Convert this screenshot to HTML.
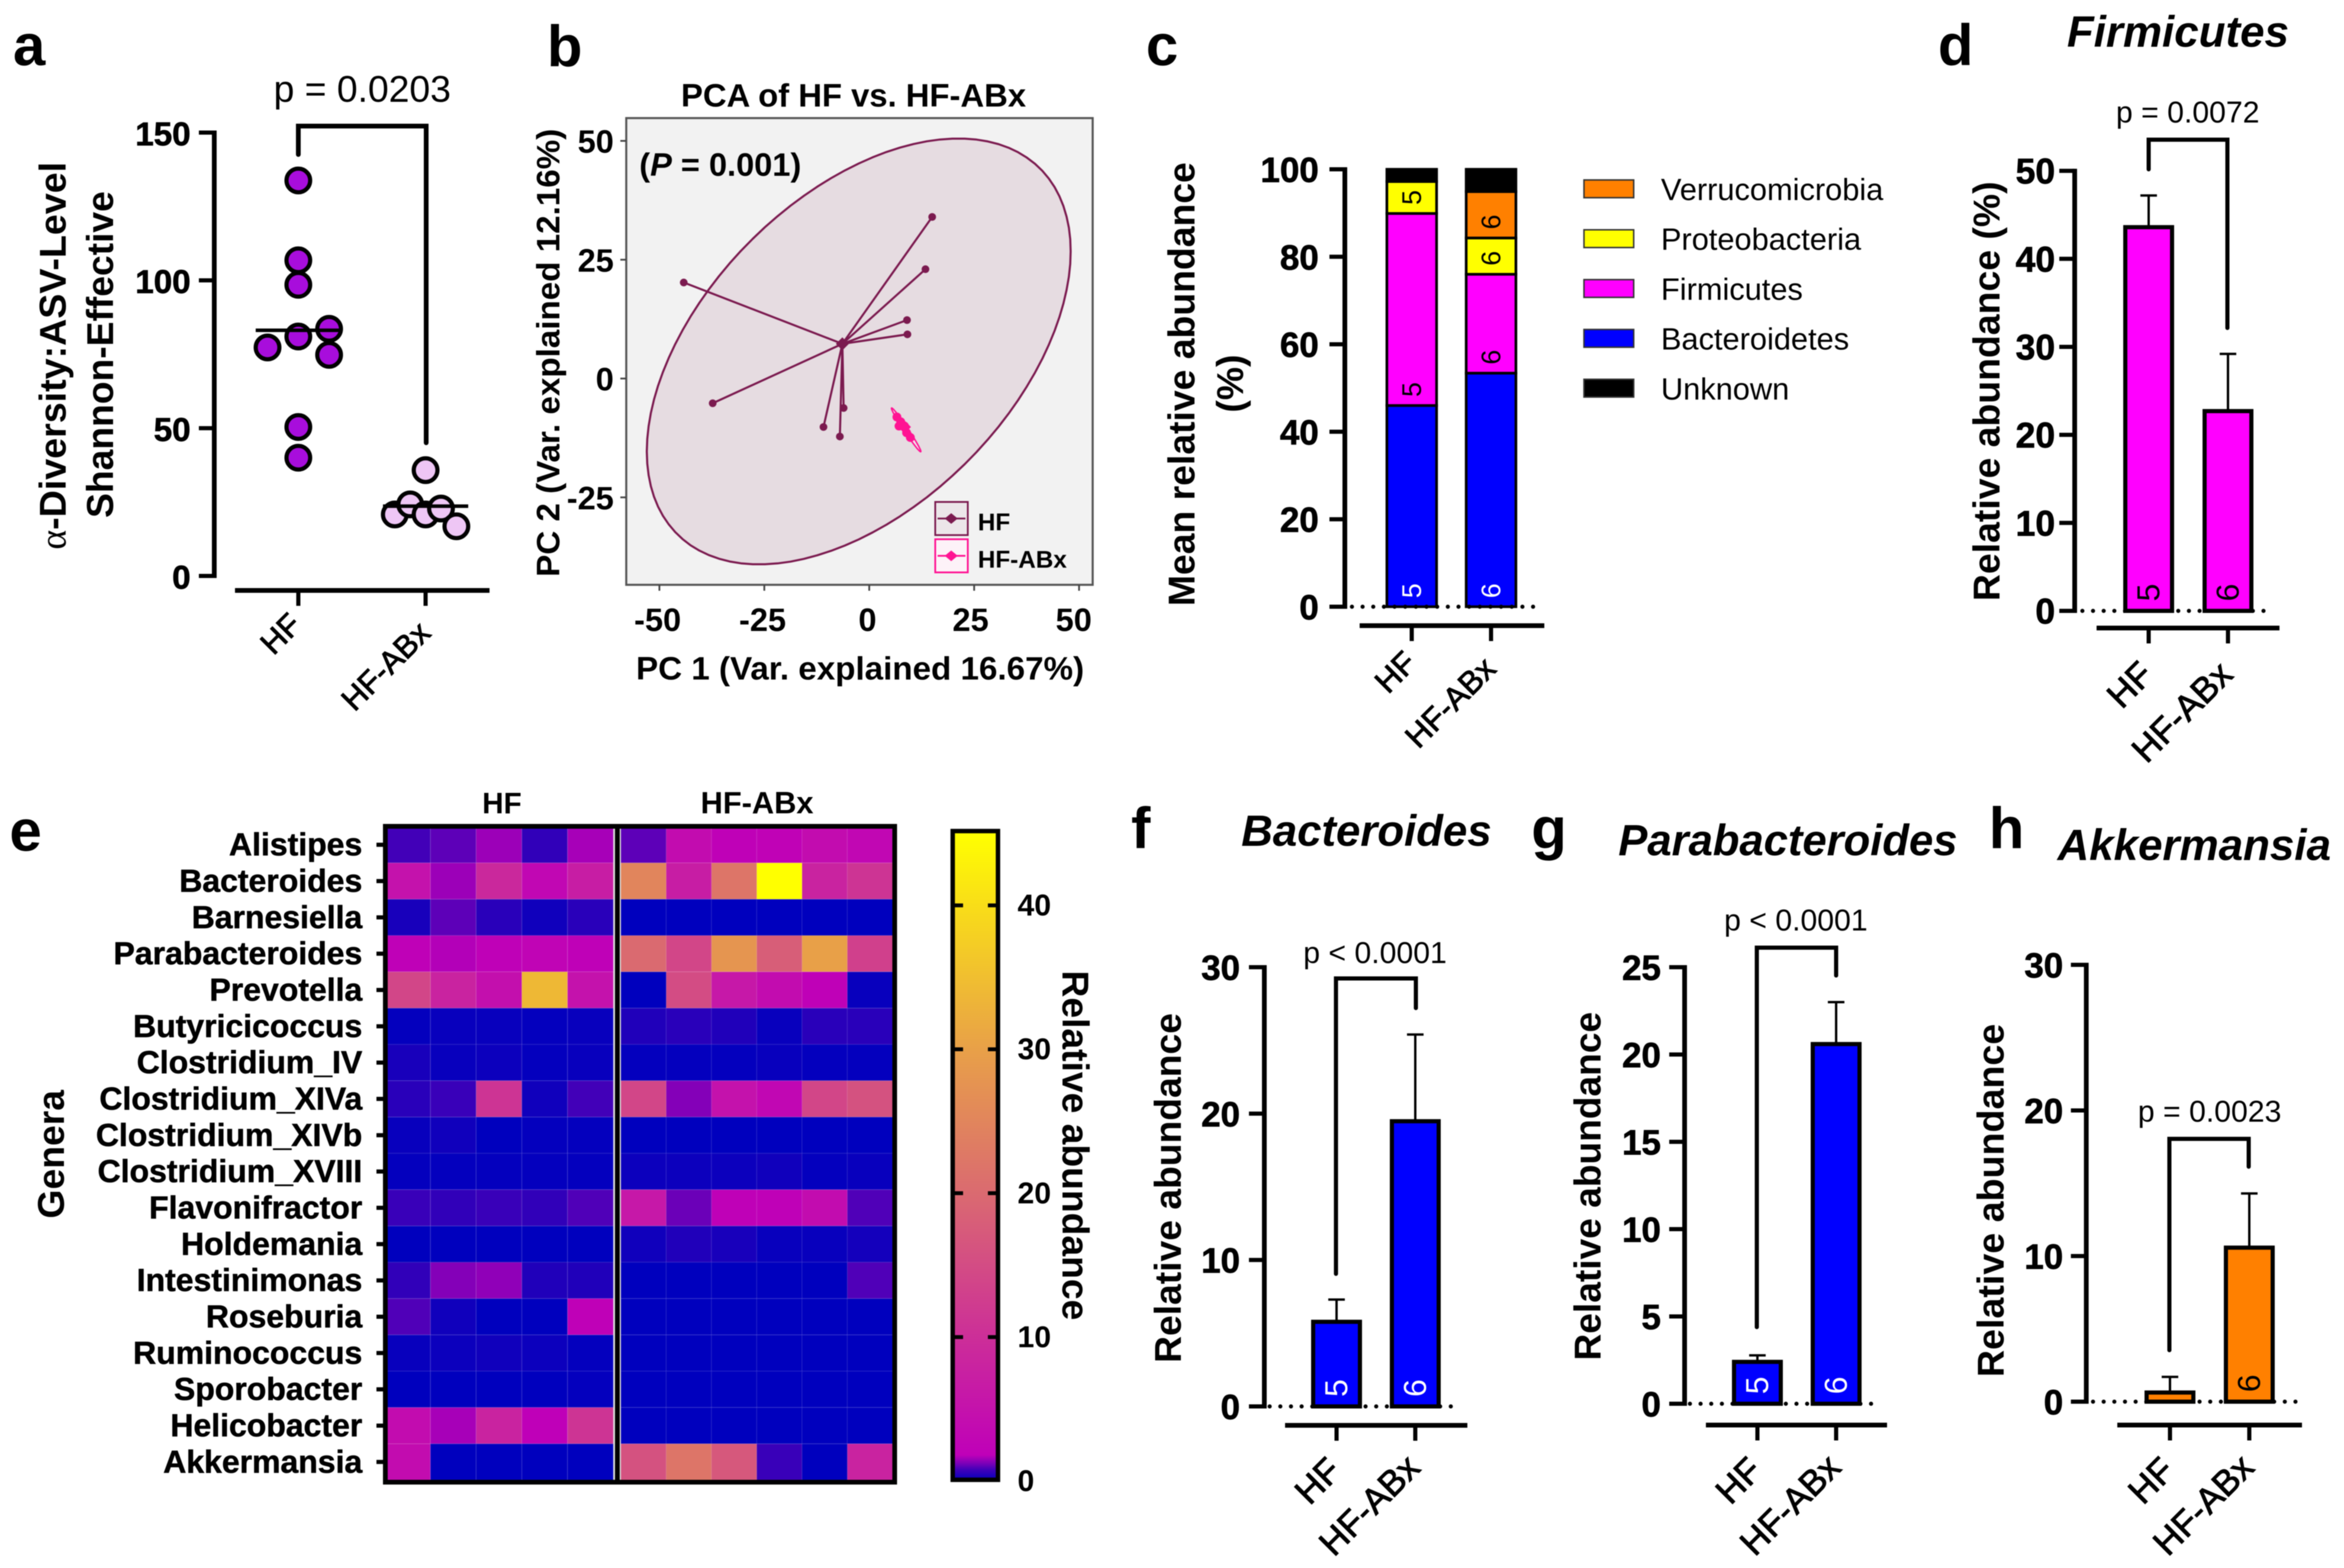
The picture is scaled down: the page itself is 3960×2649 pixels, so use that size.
<!DOCTYPE html>
<html lang="en">
<head>
<meta charset="utf-8">
<title>Gut microbiome composition in HF vs. HF-ABx</title>
<style>
html,body{margin:0;padding:0;background:#fff;}
body{width:3960px;height:2649px;overflow:hidden;}
svg{display:block;filter:blur(0.9px);}
text{font-family:"Liberation Sans",Arial,sans-serif;fill:#000;}
.pl{font-size:98px;font-weight:700;}
.yt{font-size:63px;font-weight:700;text-anchor:middle;}
.ttl{font-size:74px;font-weight:700;font-style:italic;}
.p{font-size:51px;text-anchor:middle;}
.leg{font-size:51px;}
.br{fill:none;stroke:#000;stroke-width:7;stroke-linejoin:miter;stroke-linecap:round;}
</style>
</head>
<body>
<svg id="figure" xmlns="http://www.w3.org/2000/svg" width="3960" height="2649" viewBox="0 0 3960 2649">
<rect x="0" y="0" width="3960" height="2649" fill="#fff"/>

<!-- panel letters -->
<text class="pl" x="22" y="110">a</text>
<text class="pl" x="924" y="112">b</text>
<text class="pl" x="1936" y="110">c</text>
<text class="pl" x="3274" y="110">d</text>
<text class="pl" x="16" y="1437">e</text>
<text class="pl" x="1911" y="1433">f</text>
<text class="pl" x="2587" y="1433">g</text>
<text class="pl" x="3360" y="1433">h</text>

<!-- panel a static -->
<text class="yt" transform="translate(111,601) rotate(-90)" textLength="655" lengthAdjust="spacingAndGlyphs"><tspan font-family="Liberation Serif" font-weight="400">α</tspan>-Diversity:ASV-Level</text>
<text class="yt" transform="translate(191,599) rotate(-90)" textLength="552" lengthAdjust="spacingAndGlyphs">Shannon-Effective</text>
<text class="p" x="612" y="172" font-size="63" style="font-size:63px">p = 0.0203</text>
<path class="br" style="stroke-width:8" d="M504 261V213H720V748"/>

<!-- panel b static -->
<text x="1442" y="180" font-size="55" font-weight="700" text-anchor="middle" textLength="583" lengthAdjust="spacingAndGlyphs">PCA of HF vs. HF-ABx</text>
<text transform="translate(945,596) rotate(-90)" font-size="55" font-weight="700" text-anchor="middle" textLength="757" lengthAdjust="spacingAndGlyphs">PC 2 (Var. explained 12.16%)</text>
<text x="1453" y="1148" font-size="55" font-weight="700" text-anchor="middle" textLength="757" lengthAdjust="spacingAndGlyphs">PC 1 (Var. explained 16.67%)</text>

<!-- panel c static -->
<text class="yt" transform="translate(2018,649) rotate(-90)" textLength="750" lengthAdjust="spacingAndGlyphs">Mean relative abundance</text>
<text class="yt" transform="translate(2100,648) rotate(-90)">(%)</text>

<!-- panel d static -->
<text class="ttl" x="3492" y="79" textLength="375" lengthAdjust="spacingAndGlyphs">Firmicutes</text>
<text class="yt" transform="translate(3378,661) rotate(-90)" textLength="709" lengthAdjust="spacingAndGlyphs">Relative abundance (%)</text>
<text class="p" x="3696" y="207">p = 0.0072</text>
<path class="br" d="M3630 286V236H3763V554"/>

<!-- panel e static -->
<text x="848" y="1374" font-size="50" font-weight="700" text-anchor="middle">HF</text>
<text x="1279" y="1374" font-size="52" font-weight="700" text-anchor="middle">HF-ABx</text>
<text class="yt" transform="translate(108,1950) rotate(-90)">Genera</text>
<text class="yt" transform="translate(1795,1935) rotate(90)" textLength="591" lengthAdjust="spacingAndGlyphs">Relative abundance</text>

<!-- panel f static -->
<text class="ttl" x="2097" y="1429" textLength="423" lengthAdjust="spacingAndGlyphs">Bacteroides</text>
<text class="yt" transform="translate(1995,2007) rotate(-90)" textLength="591" lengthAdjust="spacingAndGlyphs">Relative abundance</text>
<text class="p" x="2323" y="1627">p &lt; 0.0001</text>
<path class="br" d="M2257 2152V1653H2392V1703"/>

<!-- panel g static -->
<text class="ttl" x="2734" y="1445" textLength="573" lengthAdjust="spacingAndGlyphs">Parabacteroides</text>
<text class="yt" transform="translate(2704,2004) rotate(-90)" textLength="589" lengthAdjust="spacingAndGlyphs">Relative abundance</text>
<text class="p" x="3034" y="1572">p &lt; 0.0001</text>
<path class="br" d="M2968 2242V1601H3102V1648"/>

<!-- panel h static -->
<text class="ttl" x="3476" y="1453" textLength="462" lengthAdjust="spacingAndGlyphs">Akkermansia</text>
<text class="yt" transform="translate(3385,2028) rotate(-90)" textLength="597" lengthAdjust="spacingAndGlyphs">Relative abundance</text>
<text class="p" x="3733" y="1895">p = 0.0023</text>
<path class="br" d="M3665 2281V1924H3799V1971"/>

<defs>
<linearGradient id="cmapGradient" gradientUnits="userSpaceOnUse" x1="0" y1="2502" x2="0" y2="1408"></linearGradient>
</defs>
</svg>

<script>
// ---------- shared categories ----------
const groupNames = ['HF', 'HF-ABx'];

// ---------- panel a: alpha diversity ----------
const alphaTicks = [0, 50, 100, 150];
const alphaHF = [133.8, 106.8, 98.5, 83.6, 81, 77.3, 74.8, 50.4, 40];
const alphaHFSwarmRank = [0, 0, 0, 2, 0, -2, 2, 0, 0];
const alphaABx = [35.8, 20.8, 24.2, 20.8, 22.8, 16.8];
const alphaABxSwarmRank = [0, -2, -1, 0, 1, 2];
const alphaMeans = [83.1, 23.6];

// ---------- panel b: PCA ----------
const pcaTicksX = [-50, -25, 0, 25, 50];
const pcaTicksY = [-25, 0, 25, 50];
const pcaHfPc1 = [15.0, 13.4, 9.0, 9.1, -44.2, -37.3, -10.9, -6.1, -7.0];
const pcaHfPc2 = [34.0, 23.0, 12.3, 9.3, 20.2, -5.2, -10.2, -6.2, -12.2];
const pcaHfCentroid = [-6.4, 7.3];
// confidence ellipses: centre (PC1, PC2), half-extents (PC1, PC2), correlation
const pcaHfEllipseCentre = [-2.5, 5.7];
const pcaHfEllipseExtent = [50.5, 44.8];
const pcaHfEllipseCorr = 0.47;
const pcaAbxPc1 = [6.6, 7.5, 8.4, 8.9, 9.8, 7.1];
const pcaAbxPc2 = [-8.1, -9.1, -10.0, -11.4, -12.4, -10.0];
const pcaAbxCentroid = [8.4, -10.2];
const pcaAbxEllipseCentre = [8.8, -10.8];
const pcaAbxEllipseExtent = [3.5, 4.6];
const pcaAbxEllipseCorr = -0.985;

// ---------- panel c: stacked composition ----------
const compTicks = [0, 20, 40, 60, 80, 100];
const compPhyla = ['Bacteroidetes', 'Firmicutes', 'Proteobacteria', 'Verrucomicrobia', 'Unknown'];
const compHF = [46, 43.9, 7.3, 0, 2.8];
const compABx = [53.4, 22.6, 8.3, 10.6, 5.1];
const compCountsHF = [5, 5, 5, null, null];
const compCountsABx = [6, 6, 6, 6, null];
const legendNames = ['Verrucomicrobia', 'Proteobacteria', 'Firmicutes', 'Bacteroidetes', 'Unknown'];

// ---------- panels d, f, g, h: bar charts ----------
const firmTicks = [0, 10, 20, 30, 40, 50];
const firmMeans = [43.8, 22.9];
const firmErrors = [47.2, 29.2];
const firmCounts = [5, 6];
const bactTicks = [0, 10, 20, 30];
const bactMeans = [5.9, 19.6];
const bactErrors = [7.3, 25.4];
const bactCounts = [5, 6];
const paraTicks = [0, 5, 10, 15, 20, 25];
const paraMeans = [2.5, 20.7];
const paraErrors = [2.77, 23];
const paraCounts = [5, 6];
const akkTicks = [0, 10, 20, 30];
const akkMeans = [0.75, 10.7];
const akkErrors = [1.7, 14.3];
const akkCounts = [null, 6];

// ---------- panel e: heatmap ----------
const genera = ['Alistipes','Bacteroides','Barnesiella','Parabacteroides','Prevotella','Butyricicoccus','Clostridium_IV','Clostridium_XIVa','Clostridium_XIVb','Clostridium_XVIII','Flavonifractor','Holdemania','Intestinimonas','Roseburia','Ruminococcus','Sporobacter','Helicobacter','Akkermansia'];
const heatHF = [
 [0.8,1.0,1.5,0.6,1.6],
 [5,1.5,9,3,7],
 [0.3,1.0,0.5,0.2,0.5],
 [2,1.7,2,2.5,2],
 [14,8,4.5,34,5],
 [0.05,0.1,0.1,0.05,0.1],
 [0.3,0.1,0.15,0.05,0.1],
 [0.5,0.7,11,0.2,0.8],
 [0.1,0.2,0,0.05,0.05],
 [0.05,0.05,0.05,0.05,0.05],
 [0.7,0.6,0.7,0.6,0.9],
 [0,0,0,0,0],
 [0.6,1.3,1.4,0.4,0.4],
 [0.9,0.2,0,0,2],
 [0.1,0.15,0.2,0.15,0.05],
 [0,0,0,0,0.05],
 [4,1.6,8,1.8,11],
 [4,0,0,0,0]
];
const heatABx = [
 [1.0,4,2,2.2,4,3],
 [25,7,22,45,8,11],
 [0,0,0,0,0,0],
 [20,14,28,18,30,13],
 [0,15,6,4,2,0.1],
 [0.4,0.5,0.4,0.1,0.5,0.5],
 [0.05,0.05,0.05,0.1,0.05,0.05],
 [14,1.3,5,3,14,16],
 [0,0,0,0,0,0],
 [0.15,0.15,0.15,0.2,0.05,0.1],
 [6,1.1,2,2,4,0.9],
 [0.2,0.4,0.3,0.1,0.1,0.25],
 [0,0,0,0,0,0.9],
 [0,0,0,0,0,0],
 [0,0,0,0,0,0],
 [0,0,0,0,0,0],
 [0,0,0,0,0,0],
 [16,22,17,0.7,0,8]
];
const colorbarTicks = [0, 10, 20, 30, 40];
const cmapValues = [0, 0.4, 0.8, 1.2, 1.8, 10, 20, 30, 40, 45];
const cmapColors = ['#0000be','#2000ba','#4200b8','#7800b8','#bf00b8','#cc2e98','#da6a70','#e8a048','#f8dd18','#ffff00'];

// ---------- helpers ----------
const NS = 'http://www.w3.org/2000/svg';
const root = document.getElementById('figure');
function svgEl(tag, attrs, parent, content) {
  const el = document.createElementNS(NS, tag);
  for (const k in attrs) el.setAttribute(k, attrs[k]);
  if (content !== undefined) el.textContent = content;
  (parent || root).appendChild(el);
  return el;
}
function linear(d0, d1, r0, r1) {
  return function (v) { return r0 + (v - d0) * (r1 - r0) / (d1 - d0); };
}
function hexToRgb(h) {
  return [parseInt(h.slice(1, 3), 16), parseInt(h.slice(3, 5), 16), parseInt(h.slice(5, 7), 16)];
}
function colorFor(v) {
  if (v <= cmapValues[0]) return cmapColors[0];
  for (let i = 1; i < cmapValues.length; i++) {
    if (v <= cmapValues[i]) {
      const t = (v - cmapValues[i - 1]) / (cmapValues[i] - cmapValues[i - 1]);
      const a = hexToRgb(cmapColors[i - 1]);
      const b = hexToRgb(cmapColors[i]);
      return 'rgb(' + a.map(function (c, k) { return Math.round(c + (b[k] - c) * t); }).join(',') + ')';
    }
  }
  return cmapColors[cmapColors.length - 1];
}

// Prism-style axes: offset y axis, x axis with two group ticks, rotated labels
function drawAxes(prefix, yScale, ticks, L) {
  const g = svgEl('g', {});
  
  
  const yLine = svgEl('line', { x1: L.yAxisX, x2: L.yAxisX, y1: yScale(ticks[ticks.length - 1]) - 3.5, y2: yScale(ticks[0]) + 3.5, stroke: '#000', 'stroke-width': 8 }, g);
  
  
  ticks.forEach(function (t) {
    const tick = svgEl('line', { x1: L.yAxisX - 26, x2: L.yAxisX, y1: yScale(t), y2: yScale(t), stroke: '#000', 'stroke-width': 7 }, g);
    
    
    const label = svgEl('text', { x: L.yAxisX - L.tickGap, y: yScale(t) + 21.5, 'font-size': L.tickSize, 'font-weight': 700, 'text-anchor': 'end', stroke: '#000', 'stroke-width': 1 }, g, String(t));
    
    
  });
  const xLine = svgEl('line', { x1: L.xStart, x2: L.xEnd, y1: L.xAxisY, y2: L.xAxisY, stroke: '#000', 'stroke-width': 8 }, g);
  
  
  groupNames.forEach(function (name, i) {
    const cx = L.cat0 + i * L.catStep;
    const tick = svgEl('line', { x1: cx, x2: cx, y1: L.xAxisY, y2: L.xAxisY + 26, stroke: '#000', 'stroke-width': 7 }, g);
    
    
    const ex = cx + (i === 0 ? L.hfDx : 11);
    const ey = L.xAxisY + L.labelGap + (i === 0 ? L.hfDy : L.abxDy);
    const label = svgEl('text', { transform: 'translate(' + ex + ',' + ey + ') rotate(-45)', 'font-size': L.labelSize, 'text-anchor': 'end', stroke: '#000', 'stroke-width': 1.4 }, g, name);
    
    
  });
}

function drawZeroDots(prefix, x1, x2, y) {
  const dots = svgEl('line', { x1: x1, x2: x2, y1: y, y2: y, stroke: '#000', 'stroke-width': 7, 'stroke-linecap': 'round', 'stroke-dasharray': '0 18' });
  
  
}

function drawBars(prefix, yScale, means, errors, counts, fill, countColor, L) {
  means.forEach(function (m, i) {
    const cx = L.cat0 + i * L.catStep;
    const err = svgEl('path', { d: 'M' + cx + ' ' + yScale(m) + 'V' + yScale(errors[i]) + 'M' + (cx - 14) + ' ' + yScale(errors[i]) + 'H' + (cx + 14), fill: 'none', stroke: '#000', 'stroke-width': 4 });
    
    
    const bar = svgEl('rect', { x: cx - 39.5, y: yScale(m) + 3, width: 79, height: yScale(0) - yScale(m) - 3, fill: fill, stroke: '#000', 'stroke-width': 7 });
    
    
    if (counts[i] !== null) {
      const n = svgEl('text', { transform: 'translate(' + cx + ',' + (yScale(0) - 31) + ') rotate(-90)', 'font-size': 54, 'text-anchor': 'middle', 'dominant-baseline': 'central', style: 'fill:' + countColor }, root, String(counts[i]));
      
      
    }
  });
  drawZeroDots(prefix, L.dotStart, L.dotEnd, yScale(0));
}

// ---------- panel a ----------
const aY = linear(0, 150, 973, 224);
const aLayout = { yAxisX: 362, xAxisY: 997.5, xStart: 397, xEnd: 827, cat0: 504, catStep: 215, labelGap: 87, labelSize: 53, tickGap: 40, tickSize: 56, hfDx: 8, hfDy: -26, abxDy: -12 };
drawAxes('alpha', aY, alphaTicks, aLayout);
function drawAlphaPoints(values, ranks, groupIndex, fill) {
  const cx = aLayout.cat0 + groupIndex * aLayout.catStep;
  values.forEach(function (v, i) {
    const dot = svgEl('circle', { cx: cx + ranks[i] * 26, cy: aY(v), r: 20, fill: fill, stroke: '#000', 'stroke-width': 7 });
    
    
  });
}
drawAlphaPoints(alphaHF, alphaHFSwarmRank, 0, '#a80ddc');
drawAlphaPoints(alphaABx, alphaABxSwarmRank, 1, '#eec6f5');
alphaMeans.forEach(function (m, i) {
  const cx = aLayout.cat0 + i * aLayout.catStep;
  const line = svgEl('line', { x1: cx - 72, x2: cx + 72, y1: aY(m), y2: aY(m), stroke: '#000', 'stroke-width': 6 });
  
  
});

// ---------- panel b ----------
const bX = linear(-50, 50, 1114, 1823);
const bY = linear(-25, 50, 840.25, 238);
const MAROON = '#7b1a4f';
const PINK = '#ff1493';
const pcaFrame = svgEl('rect', { x: 1058, y: 199.5, width: 788, height: 788.5, fill: '#f2f2f2', stroke: '#555', 'stroke-width': 3.5 });


pcaTicksX.forEach(function (t) {
  const tick = svgEl('line', { x1: bX(t), x2: bX(t), y1: 988, y2: 998, stroke: '#444', 'stroke-width': 3 });
  
  
  const shift = t > 0 ? 3 + t * 0.12 : 3;
  const label = svgEl('text', { x: bX(t) - shift, y: 1066, 'font-size': 55, 'font-weight': 700, 'text-anchor': 'middle' }, root, String(t));
  
  
});
pcaTicksY.forEach(function (t) {
  const tick = svgEl('line', { x1: 1048, x2: 1058, y1: bY(t), y2: bY(t), stroke: '#444', 'stroke-width': 3 });
  
  
  const label = svgEl('text', { x: 1037, y: bY(t) + 20, 'font-size': 55, 'font-weight': 700, 'text-anchor': 'end' }, root, String(t));
  
  
});
const pValueB = svgEl('text', { x: 1080, y: 297, 'font-size': 55, 'font-weight': 700 }, root);


pValueB.innerHTML = '(<tspan font-style="italic">P</tspan> = 0.001)';

// confidence-ellipse outline through the PCA axis scales
function ellipsePath(centre, extent, corr) {
  const steps = 96;
  const perp = Math.sqrt(1 - corr * corr);
  let d = '';
  for (let i = 0; i < steps; i++) {
    const t = i / steps * 2 * Math.PI;
    const pc1 = centre[0] + extent[0] * Math.cos(t);
    const pc2 = centre[1] + extent[1] * (corr * Math.cos(t) + perp * Math.sin(t));
    d += (i === 0 ? 'M' : 'L') + bX(pc1).toFixed(1) + ' ' + bY(pc2).toFixed(1);
  }
  return d + 'Z';
}
const hfEllipse = svgEl('path', { d: ellipsePath(pcaHfEllipseCentre, pcaHfEllipseExtent, pcaHfEllipseCorr), fill: '#e6dce1', stroke: MAROON, 'stroke-width': 3.5, 'stroke-linejoin': 'round' });


const abxEllipse = svgEl('path', { d: ellipsePath(pcaAbxEllipseCentre, pcaAbxEllipseExtent, pcaAbxEllipseCorr), fill: '#f3e3ec', stroke: PINK, 'stroke-width': 2.5, 'stroke-linejoin': 'round' });



function drawPcaGroup(prefix, xs, ys, centroid, color, r) {
  xs.forEach(function (x, i) {
    const spoke = svgEl('line', { x1: bX(centroid[0]), y1: bY(centroid[1]), x2: bX(x), y2: bY(ys[i]), stroke: color, 'stroke-width': 3.5 });
    
    
    const dot = svgEl('circle', { cx: bX(x), cy: bY(ys[i]), r: r, fill: color });
    
    
  });
  const cx = bX(centroid[0]);
  const cy = bY(centroid[1]);
  const diamond = svgEl('polygon', { points: (cx - 11) + ',' + cy + ' ' + cx + ',' + (cy - 11) + ' ' + (cx + 11) + ',' + cy + ' ' + cx + ',' + (cy + 11), fill: color });
  
  
}
drawPcaGroup('pca-hf', pcaHfPc1, pcaHfPc2, pcaHfCentroid, MAROON, 6.5);
drawPcaGroup('pca-hf-abx', pcaAbxPc1, pcaAbxPc2, pcaAbxCentroid, PINK, 7.5);

groupNames.forEach(function (name, i) {
  const top = 848 + i * 63;
  const color = i === 0 ? MAROON : PINK;
  const box = svgEl('rect', { x: 1580, y: top, width: 55, height: 56, fill: i === 0 ? '#ece6e9' : '#fdf2f8', stroke: color, 'stroke-width': 3 });
  
  
  const line = svgEl('line', { x1: 1584, x2: 1631, y1: top + 28, y2: top + 28, stroke: color, 'stroke-width': 3 });
  
  
  const d = svgEl('polygon', { points: '1596,' + (top + 28) + ' 1607,' + (top + 19) + ' 1618,' + (top + 28) + ' 1607,' + (top + 37), fill: color });
  
  
  const label = svgEl('text', { x: 1652, y: top + 48, 'font-size': 41, 'font-weight': 700 }, root, name);
  
  
});

// ---------- panel c ----------
const cY = linear(0, 100, 1025, 286);
const cLayout = { yAxisX: 2272, xAxisY: 1057, xStart: 2297, xEnd: 2609, cat0: 2385, catStep: 134, labelGap: 81, labelSize: 54, tickGap: 44, tickSize: 59, hfDx: 11, hfDy: -15, abxDy: -5 };
const phylumFill = { Bacteroidetes: '#0000ff', Firmicutes: '#ff00ff', Proteobacteria: '#ffff00', Verrucomicrobia: '#ff8000', Unknown: '#000000' };
drawAxes('composition', cY, compTicks, cLayout);
function drawStack(values, counts, groupIndex) {
  const cx = cLayout.cat0 + groupIndex * cLayout.catStep;
  let base = 0;
  values.forEach(function (v, i) {
    if (v > 0) {
      const seg = svgEl('rect', { x: cx - 42, y: cY(base + v), width: 84, height: cY(base) - cY(base + v), fill: phylumFill[compPhyla[i]], stroke: '#000', 'stroke-width': 4.5 });
      
      
    }
    if (counts[i] !== null) {
      const n = svgEl('text', { transform: 'translate(' + cx + ',' + (cY(base) - 27) + ') rotate(-90)', 'font-size': 45, 'text-anchor': 'middle', 'dominant-baseline': 'central', style: 'fill:' + (i === 0 ? '#fff' : '#000') }, root, String(counts[i]));
      
      
    }
    base += v;
  });
}
drawStack(compHF, compCountsHF, 0);
drawStack(compABx, compCountsABx, 1);
drawZeroDots('composition', 2284, 2605, cY(0));
legendNames.forEach(function (name, i) {
  const top = 304 + i * 84.2;
  const swatch = svgEl('rect', { x: 2676, y: top, width: 84, height: 30, fill: phylumFill[name], stroke: '#333', 'stroke-width': 2.5 });
  
  
  const label = svgEl('text', { x: 2806, y: top + 34, 'font-size': 52 }, root, name);
  
  
});

// ---------- panels d, f, g, h ----------
const dY = linear(0, 50, 1032, 288.6);
const dLayout = { yAxisX: 3505, xAxisY: 1061, xStart: 3542, xEnd: 3851, cat0: 3630, catStep: 134, labelGap: 82, labelSize: 60, tickGap: 33, tickSize: 60, hfDx: 11, hfDy: 0, abxDy: 0, dotStart: 3518, dotEnd: 3842 };
drawBars('firmicutes', dY, firmMeans, firmErrors, firmCounts, '#ff00ff', '#000', dLayout);
drawAxes('firmicutes', dY, firmTicks, dLayout);

const fY = linear(0, 30, 2376, 1634);
const fLayout = { yAxisX: 2136, xAxisY: 2408, xStart: 2171, xEnd: 2479, cat0: 2258, catStep: 133, labelGap: 80, labelSize: 60, tickGap: 41, tickSize: 59, hfDx: 11, hfDy: 0, abxDy: -5, dotStart: 2145, dotEnd: 2469 };
drawBars('bacteroides', fY, bactMeans, bactErrors, bactCounts, '#0000ff', '#fff', fLayout);
drawAxes('bacteroides', fY, bactTicks, fLayout);

const gY = linear(0, 25, 2371.5, 1634);
const gLayout = { yAxisX: 2846, xAxisY: 2407.5, xStart: 2882, xEnd: 3188, cat0: 2969, catStep: 133, labelGap: 80, labelSize: 60, tickGap: 40, tickSize: 59, hfDx: 11, hfDy: 0, abxDy: -5, dotStart: 2855, dotEnd: 3177 };
drawBars('parabacteroides', gY, paraMeans, paraErrors, paraCounts, '#0000ff', '#fff', gLayout);
drawAxes('parabacteroides', gY, paraTicks, gLayout);

const hY = linear(0, 30, 2368, 1630);
const hLayout = { yAxisX: 3524.6, xAxisY: 2407.5, xStart: 3577, xEnd: 3889, cat0: 3666, catStep: 134, labelGap: 80, labelSize: 60, tickGap: 39, tickSize: 59, hfDx: 11, hfDy: 0, abxDy: -5, dotStart: 3536, dotEnd: 3892 };
drawBars('akkermansia', hY, akkMeans, akkErrors, akkCounts, '#ff8000', '#000', hLayout);
drawAxes('akkermansia', hY, akkTicks, hLayout);

// ---------- panel e ----------
const rowY = linear(0, genera.length, 1396.5, 2500.5);
const hfColX = linear(0, 5, 650, 1036);
const abxColX = linear(0, 6, 1049, 1508);
function drawHeatBlock(rows, colScale, prefix) {
  rows.forEach(function (row, r) {
    row.forEach(function (v, c) {
      const cell = svgEl('rect', { x: colScale(c), y: rowY(r), width: colScale(c + 1) - colScale(c), height: rowY(r + 1) - rowY(r), fill: colorFor(v), stroke: 'rgba(255,255,255,0.09)', 'stroke-width': 1.5 });
      
      
    });
  });
}
drawHeatBlock(heatHF, hfColX, 'hf');
drawHeatBlock(heatABx, abxColX, 'hf-abx');
const sepBack = svgEl('rect', { x: 1036, y: 1396, width: 13, height: 1108, fill: '#dcdcdc' });


const sepLine = svgEl('rect', { x: 1039, y: 1396, width: 8, height: 1108, fill: '#000' });


const heatFrame = svgEl('rect', { x: 651, y: 1396, width: 860.5, height: 1108, fill: 'none', stroke: '#000', 'stroke-width': 8 });


genera.forEach(function (name, i) {
  const cy = (rowY(i) + rowY(i + 1)) / 2;
  const tick = svgEl('line', { x1: 636, x2: 647, y1: cy, y2: cy, stroke: '#000', 'stroke-width': 7 });
  
  
  const label = svgEl('text', { x: 612, y: cy + 18, 'font-size': 54, 'font-weight': 700, 'text-anchor': 'end', stroke: '#000', 'stroke-width': 0.8 }, root, name);
  
  
});

const cbY = linear(0, 45, 2502, 1408);
const grad = document.getElementById('cmapGradient');
cmapValues.forEach(function (v, i) {
  const stop = svgEl('stop', { offset: v / 45, 'stop-color': cmapColors[i] }, grad);
  
  
});
const cbar = svgEl('rect', { x: 1609.5, y: 1404, width: 76.5, height: 1096, fill: 'url(#cmapGradient)', stroke: '#000', 'stroke-width': 7.5 });


colorbarTicks.forEach(function (t) {
  const labelY = cbY(t) + 17;
  if (t > 0) {
    const left = svgEl('line', { x1: 1613, x2: 1627, y1: cbY(t), y2: cbY(t), stroke: '#000', 'stroke-width': 6.5 });
    
    
    const right = svgEl('line', { x1: 1669, x2: 1683, y1: cbY(t), y2: cbY(t), stroke: '#000', 'stroke-width': 6.5 });
    
    
  }
  const label = svgEl('text', { x: 1719, y: labelY, 'font-size': 51, 'font-weight': 700 }, root, String(t));
  
  
});
</script>
</body>
</html>
